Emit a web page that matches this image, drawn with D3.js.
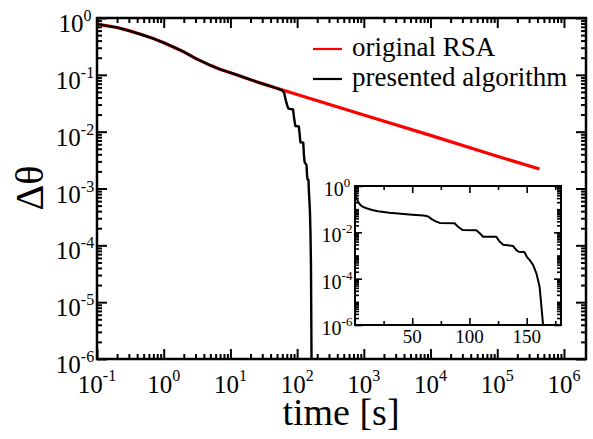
<!DOCTYPE html>
<html>
<head>
<meta charset="utf-8">
<script src="https://cdn.jsdelivr.net/npm/d3@7"></script>
<style>
  body { margin: 0; background: #fff; }
  svg { display: block; }
  text { font-family: "Liberation Serif", "Times New Roman", serif; }
</style>
</head>
<body>
<div id="chart-area"></div>
<script>
// original RSA
var rsaTime  = [0.1, 0.15, 0.2, 0.3, 0.5, 0.7, 1, 1.5, 2, 3, 5, 7, 10, 15, 20, 30, 50, 100, 1000, 10000, 100000, 430000];
var rsaTheta = [0.78, 0.72, 0.68, 0.60, 0.497, 0.434, 0.368, 0.297, 0.254, 0.195, 0.147, 0.125, 0.109, 0.0925, 0.082,
                0.070, 0.058, 0.045, 0.0197, 0.0086, 0.0037, 0.0022];

// presented algorithm
var algTime  = [0.1, 0.15, 0.2, 0.3, 0.5, 0.7, 1, 1.5, 2, 3, 5, 7, 10, 15, 20, 30, 50, 60, 64, 67, 71, 74, 87, 90, 94,
                106, 109, 112, 123.5, 126.5, 129.5, 138, 141, 143, 148, 150, 152.5, 155.5, 158.5, 161.3, 164.2, 165];
var algTheta = [0.78, 0.72, 0.68, 0.60, 0.497, 0.434, 0.368, 0.297, 0.254, 0.195, 0.147, 0.125, 0.109, 0.0925, 0.082,
                0.070, 0.058, 0.053, 0.048, 0.037, 0.029, 0.0255, 0.0245, 0.0175, 0.0126, 0.0124, 0.0091, 0.0065,
                0.0064, 0.0039, 0.0029, 0.0026, 0.0017, 0.00145, 0.00142, 0.0009, 0.00065, 0.0004, 0.00017,
                0.000045, 0.0000012, 0.0000001];

var xTickExp = [-1, 0, 1, 2, 3, 4, 5, 6];
var yTickExp = [0, -1, -2, -3, -4, -5, -6];
var insetXTicks = [50, 100, 150];
var insetXMinor = [25, 75, 125, 175];
var insetYTickExp = [0, -2, -4, -6];
var legendLabels = ["original RSA", "presented algorithm"];
var legendColors = ["#ff0000", "#000000"];

var W = 593, H = 439;
var margin = { top: 18, right: 7, bottom: 80, left: 97 },
    width = W - margin.left - margin.right,
    height = H - margin.top - margin.bottom;

var svg0 = d3.select("#chart-area")
    .append("svg")
    .attr("width", W)
    .attr("height", H);

var svg = svg0.append("g")
    .attr("transform", `translate(${margin.left},${margin.top})`);

var x = d3.scaleLog().domain([0.1, 2.14e6]).range([0, width]);
var y = d3.scaleLog().domain([1e-6, 1]).range([height, 0]);

function logMinor(e0, e1) {
    var out = [];
    for (var k = e0; k < e1; k++)
        for (var j = 2; j <= 9; j++) out.push(j * Math.pow(10, k));
    return out;
}

// ticks on all four sides, pointing inward
function frameTicks(g, xs, ys, w, h, xMaj, xMin, yMaj, yMin, big, small, sw) {
    var specs = [
        [d3.axisBottom(xs), `translate(0,${h})`, xMaj, xMin],
        [d3.axisTop(xs), "translate(0,0)", xMaj, xMin],
        [d3.axisLeft(ys), "translate(0,0)", yMaj, yMin],
        [d3.axisRight(ys), `translate(${w},0)`, yMaj, yMin]
    ];
    specs.forEach(s => {
        [[s[2], big], [s[3], small]].forEach(p => {
            var a = s[0].tickValues(p[0]).tickSizeInner(-p[1]).tickSizeOuter(0).tickFormat("");
            var ag = g.append("g").attr("transform", s[1]).call(a);
            ag.select(".domain").remove();
            ag.selectAll("line").attr("stroke", "#000").attr("stroke-width", sw);
        });
    });
}

function powLabel(sel, exp, size, supSize, raise) {
    sel.append("tspan").attr("font-size", size).text("10");
    sel.append("tspan").attr("font-size", supSize).attr("dy", -raise).text(exp);
}

// main frame ticks
frameTicks(svg, x, y, width, height,
    xTickExp.map(e => Math.pow(10, e)), logMinor(-1, 6),
    yTickExp.map(e => Math.pow(10, e)), logMinor(-6, 0),
    10, 5, 2);

svg.append("rect")
    .attr("width", width).attr("height", height)
    .attr("fill", "none").attr("stroke", "#000").attr("stroke-width", 2.5);

// x tick labels
xTickExp.forEach(e => {
    var t = svg.append("text")
        .attr("x", x(Math.pow(10, e)))
        .attr("y", height + 34)
        .attr("text-anchor", "middle");
    powLabel(t, e, "25px", "16px", 12);
});

// y tick labels
yTickExp.forEach(e => {
    var t = svg.append("text")
        .attr("x", -22)
        .attr("y", y(Math.pow(10, e)) + 14)
        .attr("text-anchor", "middle");
    powLabel(t, e, "25px", "16px", 11);
});

svg0.append("text")
    .attr("x", 341)
    .attr("y", 425)
    .attr("text-anchor", "middle")
    .attr("font-size", "38px")
    .text("time [s]");

svg0.append("text")
    .attr("transform", "translate(43,188) rotate(-90)")
    .attr("text-anchor", "middle")
    .attr("font-size", "40px")
    .text("Δθ");

// curves
svg.append("clipPath").attr("id", "clip-main")
    .append("rect").attr("width", width).attr("height", height);

var line = d3.line().x(d => x(d[0])).y(d => y(d[1]));

svg.append("path")
    .datum(d3.zip(rsaTime, rsaTheta))
    .attr("clip-path", "url(#clip-main)")
    .attr("fill", "none")
    .attr("stroke", legendColors[0])
    .attr("stroke-width", 3.2)
    .attr("d", line);

svg.append("path")
    .datum(d3.zip(algTime, algTheta))
    .attr("clip-path", "url(#clip-main)")
    .attr("fill", "none")
    .attr("stroke", legendColors[1])
    .attr("stroke-width", 2.4)
    .attr("stroke-linejoin", "round")
    .attr("d", line);

// legend
var legend = svg0.append("g").attr("transform", "translate(313,49)");
var legendRow = legend.selectAll(".legend-row")
    .data(legendLabels)
    .enter()
    .append("g")
    .attr("class", "legend-row")
    .attr("transform", (d, i) => `translate(0, ${i * 30})`);

legendRow.append("line")
    .attr("x1", 0).attr("x2", 29)
    .attr("stroke", (d, i) => legendColors[i])
    .attr("stroke-width", 2.2);

legendRow.append("text")
    .attr("x", 39)
    .attr("y", 7)
    .attr("font-size", "27px")
    .text(d => d);

// inset
var inset = { left: 355, top: 186, width: 206, height: 139 };
var ig = svg0.append("g").attr("transform", `translate(${inset.left},${inset.top})`);
var ix = d3.scaleLinear().domain([0, 180]).range([0, inset.width]);
var iy = d3.scaleLog().domain([1e-6, 1]).range([inset.height, 0]);

ig.append("rect").attr("width", inset.width).attr("height", inset.height).attr("fill", "#fff");

var iyMinor = [];
for (var k = -6; k < 0; k++)
    for (var j = 1; j <= 9; j++) {
        if (j === 1 && k % 2 === 0) continue;
        iyMinor.push(j * Math.pow(10, k));
    }

frameTicks(ig, ix, iy, inset.width, inset.height,
    insetXTicks, insetXMinor,
    insetYTickExp.map(e => Math.pow(10, e)), iyMinor,
    7, 4, 1.6);

ig.append("clipPath").attr("id", "clip-inset")
    .append("rect").attr("width", inset.width).attr("height", inset.height);

var iline = d3.line().x(d => ix(d[0])).y(d => iy(d[1]));
ig.append("path")
    .datum(d3.zip(algTime, algTheta))
    .attr("clip-path", "url(#clip-inset)")
    .attr("fill", "none")
    .attr("stroke", "#000")
    .attr("stroke-width", 2)
    .attr("stroke-linejoin", "round")
    .attr("d", iline);

ig.append("rect")
    .attr("width", inset.width).attr("height", inset.height)
    .attr("fill", "none").attr("stroke", "#000").attr("stroke-width", 2);

insetXTicks.forEach(v => {
    ig.append("text")
        .attr("x", ix(v))
        .attr("y", inset.height + 18)
        .attr("text-anchor", "middle")
        .attr("font-size", "19px")
        .text(v);
});

insetYTickExp.forEach(e => {
    var t = ig.append("text")
        .attr("x", -18)
        .attr("y", iy(Math.pow(10, e)) + 10)
        .attr("text-anchor", "middle");
    powLabel(t, e, "20px", "13px", 9);
});
</script>
</body>
</html>
